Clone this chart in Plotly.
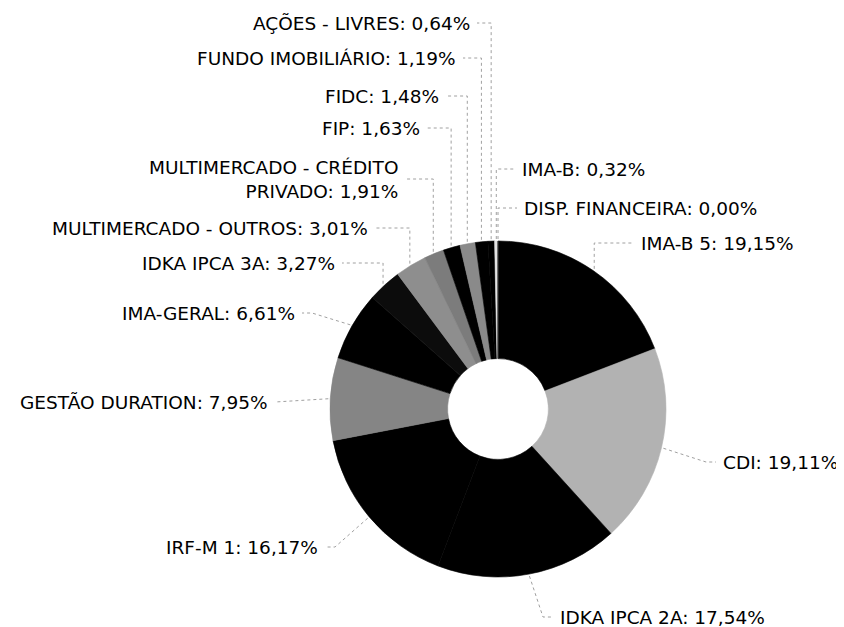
import math

import plotly.graph_objects as go

# data (clockwise from 12 o'clock)
labels = [
    "IMA-B 5", "CDI", "IDKA IPCA 2A", "IRF-M 1", "GESTÃO DURATION",
    "IMA-GERAL", "IDKA IPCA 3A", "MULTIMERCADO - OUTROS",
    "MULTIMERCADO - CRÉDITO PRIVADO", "FIP", "FIDC", "FUNDO IMOBILIÁRIO",
    "AÇÕES - LIVRES", "IMA-B", "DISP. FINANCEIRA",
]
values = [19.15, 19.11, 17.54, 16.17, 7.95, 6.61, 3.27, 3.01,
          1.91, 1.63, 1.48, 1.19, 0.64, 0.32, 0.00]

# grey-scale fills, same order as labels
colors = ["#000000", "#b2b2b2", "#000000", "#000000", "#858585",
          "#000000", "#0c0c0c", "#8e8e8e", "#7c7c7c", "#000000",
          "#8a8a8a", "#000000", "#000000", "#e4e4e4", "#000000"]

# where each label sits (page pixels), side = which way the text runs
label_pos = [
    ("left", 639, 243), ("left", 721, 462), ("left", 558, 617),
    ("right", 320, 547), ("right", 270, 402), ("right", 297, 313),
    ("right", 337, 263), ("right", 370, 228), ("right", 400, 179),
    ("right", 422, 128), ("right", 441, 96), ("right", 458, 58),
    ("right", 472, 23), ("left", 520, 169), ("left", 522, 208),
]

PAGE_W, PAGE_H = 844, 627
OFF = 8  # default body margin of the page
W, H = PAGE_W - OFF, PAGE_H - OFF
CX, CY, R = 498, 409, 168

fig = go.Figure()

fig.add_trace(
    go.Pie(
        labels=labels,
        values=values,
        sort=False,
        direction="clockwise",
        rotation=0,
        hole=0.3,
        textinfo="none",
        # outline each slice in its own colour so same-colour neighbours merge
        marker=dict(colors=colors, line=dict(color=colors, width=0.6)),
        domain=dict(x=[(CX - R - OFF) / W, (CX + R - OFF) / W],
                    y=[(PAGE_H - CY - R) / H, (PAGE_H - CY + R) / H]),
        showlegend=False,
    )
)

# leader lines from the middle of each slice out to its label
total = sum(values)
cum = 0.0
lx, ly = [], []
annotations = []
for name, v, (side, tx, ty) in zip(labels, values, label_pos):
    ang = math.radians((cum + v / 2) / total * 360)
    cum += v
    px = CX + (R + 2) * math.sin(ang)
    py = CY - (R + 2) * math.cos(ang)
    ex = tx - 5 if side == "left" else tx + 5
    if ty < CY - 0.8 * R:
        kx = px
    else:
        kx = ex - 10 if side == "left" else ex + 10
    lx += [px, kx, ex, None]
    ly += [py, ty, ty, None]

    txt = name.replace("CRÉDITO PRIVADO", "CRÉDITO<br>PRIVADO")
    txt = f"{txt}: " + f"{v:.2f}".replace(".", ",") + "%"
    annotations.append(
        dict(
            x=tx, y=ty, xref="x", yref="y",
            text=txt, showarrow=False,
            xanchor="left" if side == "left" else "right",
            yanchor="middle",
            align="left" if side == "left" else "right",
            font=dict(family="DejaVu Sans", size=18.5, color="#000000"),
        )
    )

fig.add_trace(
    go.Scatter(
        x=lx, y=ly, mode="lines",
        line=dict(color="#a0a0a0", width=1, dash="dot"),
        hoverinfo="skip", showlegend=False,
    )
)

fig.update_layout(
    width=W,
    height=H,
    margin=dict(l=0, r=0, t=0, b=0),
    paper_bgcolor="white",
    plot_bgcolor="rgba(0,0,0,0)",
    xaxis=dict(range=[OFF, PAGE_W], visible=False, domain=[0, 1]),
    yaxis=dict(range=[PAGE_H, OFF], visible=False, domain=[0, 1]),
    annotations=annotations,
    font=dict(family="DejaVu Sans"),
)

fig.write_html("out.html")
